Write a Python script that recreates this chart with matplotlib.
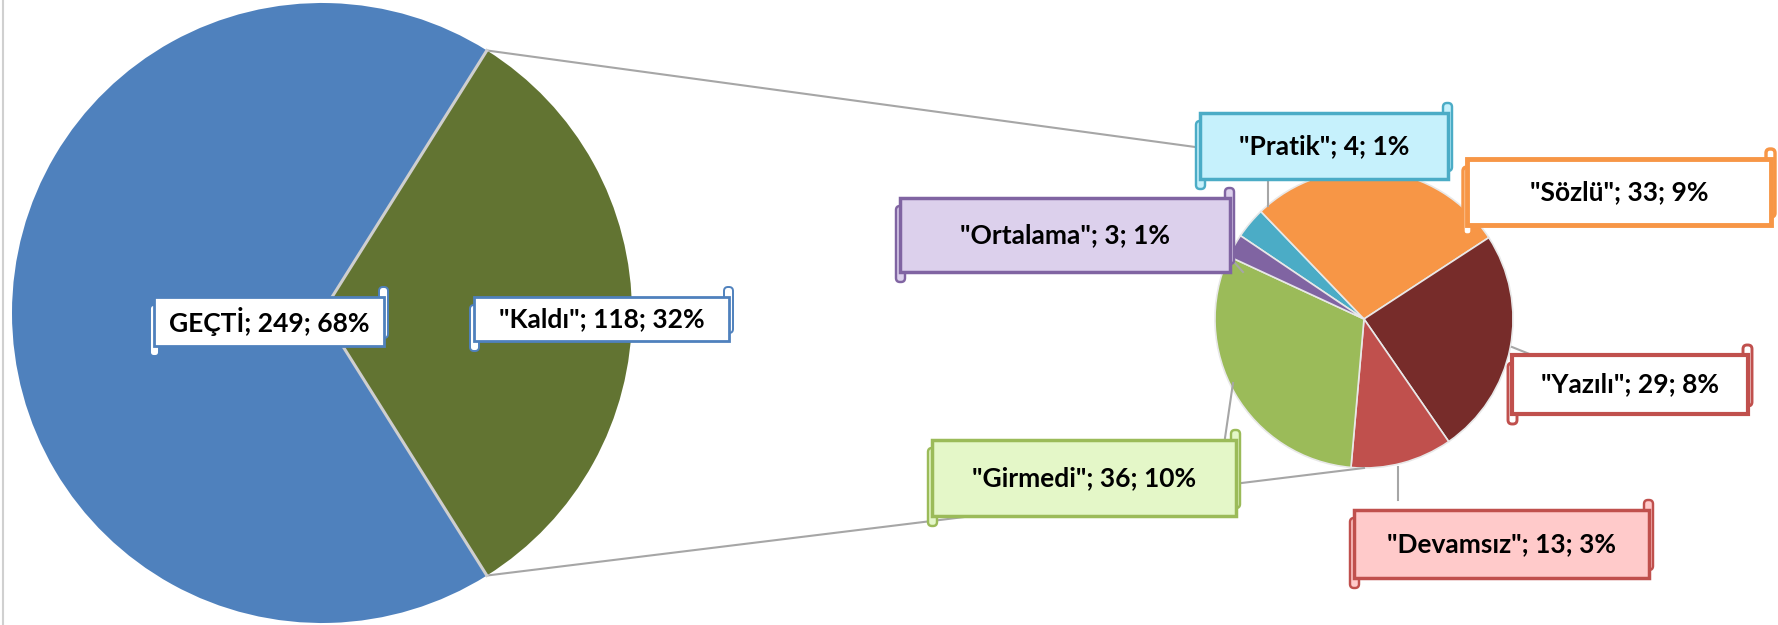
"""Pie-of-pie chart: GEÇTİ / Kaldı, with the Kaldı part split into reasons."""

import matplotlib
matplotlib.use('Agg')
import matplotlib.pyplot as plt
from matplotlib.patches import FancyBboxPatch
import numpy as np

plt.rcParams['font.family'] = ['Lato', 'DejaVu Sans']

# Data
main_names = ['"Kaldı"', 'GEÇTİ']
main_values = [118, 249]
main_pcts = [32, 68]
main_colors = ['#627432', '#4F81BD']

sub_names = ['"Pratik"', '"Sözlü"', '"Yazılı"', '"Devamsız"', '"Girmedi"', '"Ortalama"']
sub_values = [4, 33, 29, 13, 36, 3]
sub_pcts = [1, 9, 8, 3, 10, 1]
sub_colors = ['#4BACC6', '#F79646', '#772C2A', '#C0504D', '#9BBB59', '#8064A2']

W, H = 1778, 625
fig = plt.figure(figsize=(W / 100, H / 100), dpi=100)
ax = fig.add_axes([0, 0, 1, 1])

# pie geometry (pixel space, y up)
big_c, big_r = (322, H - 313), 310
small_c, small_r = (1364, H - 319), 149

kaldi_frac = main_values[0] / sum(main_values)
ax.pie(main_values, colors=main_colors, startangle=-kaldi_frac * 180,
       center=big_c, radius=big_r, frame=True,
       wedgeprops=dict(edgecolor='none', linewidth=0))
ax.pie(sub_values, colors=sub_colors, startangle=146, counterclock=False,
       center=small_c, radius=small_r, frame=True,
       wedgeprops=dict(edgecolor='#E8E8E8', linewidth=1.2))

# divider lines on the big pie + connector lines between the two pies
a = kaldi_frac * np.pi
top_pt = (big_c[0] + big_r * np.cos(a), big_c[1] + big_r * np.sin(a))
bot_pt = (big_c[0] + big_r * np.cos(a), big_c[1] - big_r * np.sin(a))
for p in (top_pt, bot_pt):
    ax.plot([big_c[0], p[0]], [big_c[1], p[1]], color='#CFCFCF', lw=2.2, zorder=3)
ax.plot([top_pt[0], small_c[0]], [top_pt[1], small_c[1] + small_r], color='#A6A6A6', lw=1.5, zorder=1)
ax.plot([bot_pt[0], small_c[0]], [bot_pt[1], small_c[1] - small_r], color='#A6A6A6', lw=1.5, zorder=1)

# chart border on the left
ax.plot([3, 3], [0, H], color='#D0D0D0', lw=1.5)


def label(text, box, face, edge, lw=2.5):
    """box = (x0, y0, x1, y1) in image pixels (y down)."""
    x0, y0, x1, y1 = box
    bx0, by0, bx1, by1 = x0, H - y1, x1, H - y0
    # rolled ends of the scroll
    ax.add_patch(FancyBboxPatch((bx0, by0 - 10), 9, by1 - by0 + 2,
                                boxstyle='round,pad=0,rounding_size=4',
                                fc=face, ec=edge, lw=lw * 0.7, zorder=5))
    ax.add_patch(FancyBboxPatch((bx1 - 9, by0 + 8), 9, by1 - by0 + 2,
                                boxstyle='round,pad=0,rounding_size=4',
                                fc=face, ec=edge, lw=lw * 0.7, zorder=5))
    ax.add_patch(FancyBboxPatch((bx0 + 4, by0), bx1 - bx0 - 8, by1 - by0,
                                boxstyle='square,pad=0', fc=face, ec=edge, lw=lw, zorder=6))
    ax.text((bx0 + bx1) / 2, (by0 + by1) / 2, text, ha='center', va='center',
            fontsize=19, fontweight='bold', color='black', zorder=7)


def lead(p, q):
    ax.plot([p[0], q[0]], [H - p[1], H - q[1]], color='#A6A6A6', lw=1.5, zorder=4)


main_text = [f'{n}; {v}; {p}%' for n, v, p in zip(main_names, main_values, main_pcts)]
sub_text = [f'{n}; {v}; {p}%' for n, v, p in zip(sub_names, sub_values, sub_pcts)]

label(main_text[1], (150, 297, 388, 346), 'white', '#4F81BD', lw=2)
label(main_text[0], (470, 297, 733, 341), 'white', '#4F81BD', lw=2)

# leader lines for the second pie
lead((1268, 179), (1268, 206))
lead((1234, 262), (1243, 272))
lead((1512, 347), (1532, 355))
lead((1233, 383), (1225, 438))
lead((1398, 467), (1398, 500))

label(sub_text[0], (1196, 113, 1452, 179), '#C6F1FC', '#4BACC6')
label(sub_text[1], (1463, 159, 1775, 225), 'white', '#F79646', lw=3.5)
label(sub_text[5], (896, 198, 1234, 272), '#DCD0EC', '#8064A2')
label(sub_text[2], (1508, 355, 1752, 414), 'white', '#C0504D', lw=3)
label(sub_text[4], (928, 440, 1240, 516), '#E4F7C8', '#9BBB59')
label(sub_text[3], (1350, 510, 1653, 578), '#FFCACA', '#C0504D')

ax.set_xlim(0, W)
ax.set_ylim(0, H)
ax.set_aspect('equal')
ax.axis('off')

plt.savefig('out.png', dpi=100)
plt.close()
